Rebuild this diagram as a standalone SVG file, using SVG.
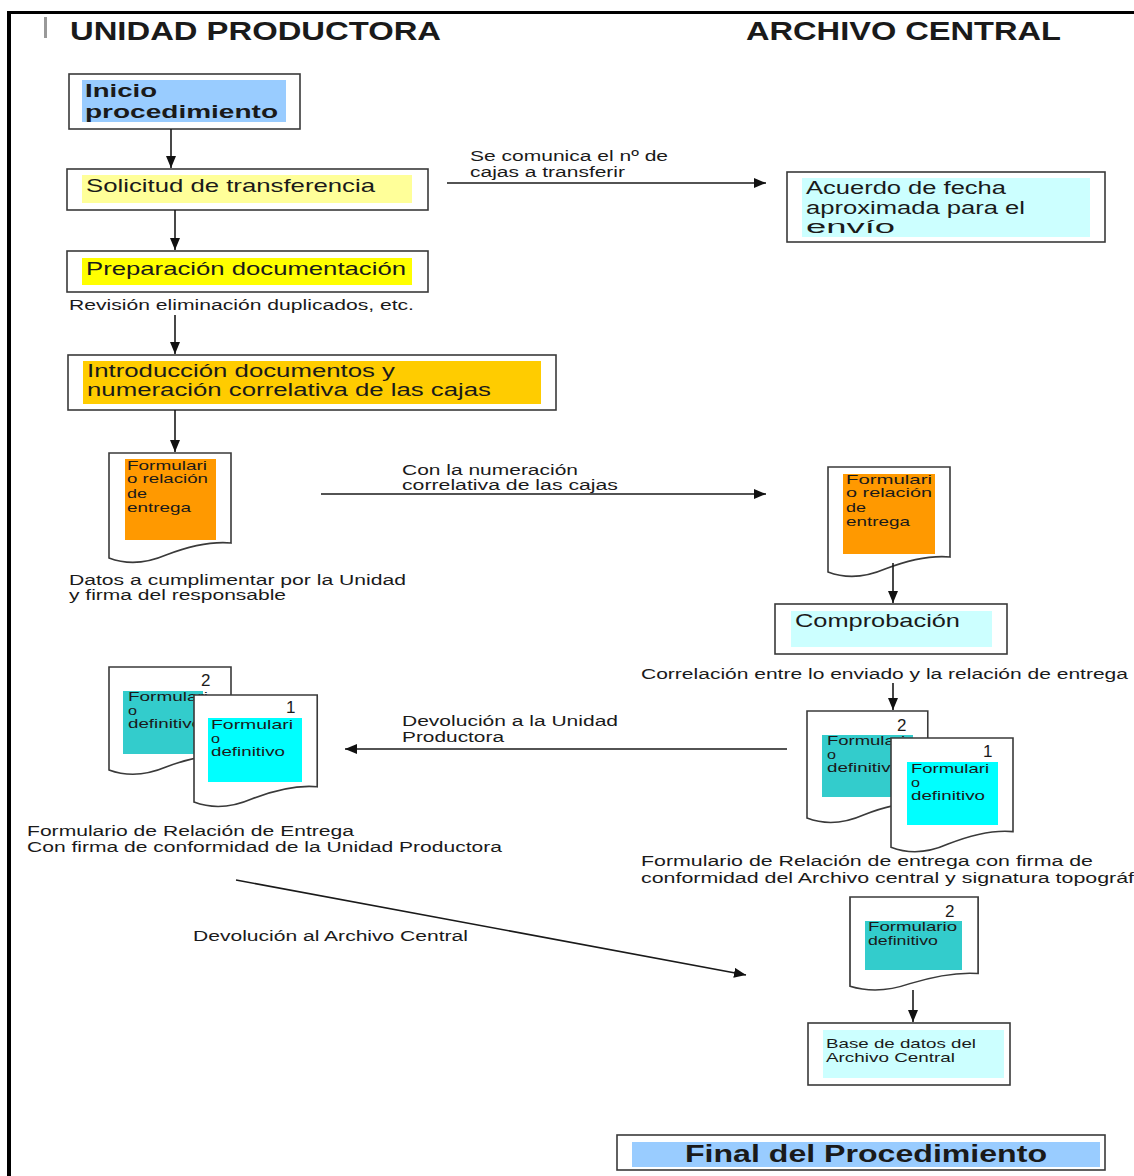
<svg xmlns="http://www.w3.org/2000/svg" xmlns:xlink="http://www.w3.org/1999/xlink" width="1134" height="1176" viewBox="0 0 1134 1176">
<style>
text{font-family:"Liberation Sans",Arial,sans-serif;fill:#1a1a1a}
.h{font-size:25px;font-weight:bold}
.b{font-weight:bold}
.box{fill:#fff;stroke:#3a3a3a;stroke-width:1.6}
.doc{fill:#fff;stroke:#3a3a3a;stroke-width:1.6}
.f13{font-size:13.5px}
.f15{font-size:15.5px}
.f17{font-size:17.5px}
.f18{font-size:18.5px}
.num{font-size:17px}
.con{stroke:#1a1a1a;stroke-width:1.6;fill:none}
</style>
<defs>
<marker id="ah" markerUnits="userSpaceOnUse" markerWidth="13" markerHeight="11" refX="12" refY="5" orient="auto">
<path d="M0,0 L12,5 L0,10 z" fill="#111"/>
</marker>
<path id="docshape" d="M0,0 H122 V90 C100,88 78,94 57,102 C36,111 16,111 0,105 Z"/>
</defs>
<rect width="1134" height="1176" fill="#fff"/>
<!-- frame -->
<rect x="7" y="11" width="4" height="1165" fill="#000"/>
<rect x="7" y="11" width="1127" height="3" fill="#000"/>
<rect x="44" y="17" width="3" height="21" fill="#999"/>
<text class="h" x="70" y="40" textLength="371" lengthAdjust="spacingAndGlyphs">UNIDAD PRODUCTORA</text>
<text class="h" x="746" y="40" textLength="315" lengthAdjust="spacingAndGlyphs">ARCHIVO CENTRAL</text>

<g id="inicio">
<rect class="box" x="69" y="74" width="231" height="55"/>
<rect x="82" y="80" width="204" height="42" fill="#99CCFF"/>
<text class="b" x="85" y="97" font-size="19" textLength="72" lengthAdjust="spacingAndGlyphs">Inicio</text>
<text class="b" x="85" y="118" font-size="19" textLength="193" lengthAdjust="spacingAndGlyphs">procedimiento</text>
</g>

<g id="solicitud">
<rect class="box" x="67" y="169" width="361" height="41"/>
<rect x="82" y="175" width="330" height="28" fill="#FFFF99"/>
<text class="f18" x="86" y="192" textLength="289" lengthAdjust="spacingAndGlyphs">Solicitud de transferencia</text>
</g>

<g id="preparacion">
<rect class="box" x="67" y="251" width="361" height="41"/>
<rect x="82" y="258" width="330" height="27" fill="#FFFF00"/>
<text class="f18" x="86" y="275" textLength="320" lengthAdjust="spacingAndGlyphs">Preparación documentación</text>
</g>
<text class="f15" x="69" y="310" textLength="345" lengthAdjust="spacingAndGlyphs">Revisión eliminación duplicados, etc.</text>

<g id="introduccion">
<rect class="box" x="68" y="355" width="488" height="55"/>
<rect x="83" y="361" width="458" height="43" fill="#FFCC00"/>
<text class="f17" x="87" y="377" textLength="308" lengthAdjust="spacingAndGlyphs">Introducción documentos y</text>
<text class="f17" x="87" y="396" textLength="404" lengthAdjust="spacingAndGlyphs">numeración correlativa de las cajas</text>
</g>

<g id="acuerdo">
<rect class="box" x="787" y="172" width="318" height="70"/>
<rect x="802" y="178" width="288" height="59" fill="#CCFFFF"/>
<text class="f17" x="806" y="194" textLength="200" lengthAdjust="spacingAndGlyphs">Acuerdo de fecha</text>
<text class="f17" x="806" y="214" textLength="219" lengthAdjust="spacingAndGlyphs">aproximada para el</text>
<text class="f17" x="806" y="233" textLength="89" lengthAdjust="spacingAndGlyphs">envío</text>
</g>

<g id="formulario-relacion-up">
<use xlink:href="#docshape" class="doc" transform="translate(109,453)"/>
<rect x="125" y="459" width="91" height="81" fill="#FF9900"/>
<text class="f13" x="127" y="470" textLength="80" lengthAdjust="spacingAndGlyphs">Formulari</text>
<text class="f13" x="127" y="483" textLength="81" lengthAdjust="spacingAndGlyphs">o relación</text>
<text class="f13" x="127" y="498" textLength="20" lengthAdjust="spacingAndGlyphs">de</text>
<text class="f13" x="127" y="512" textLength="64" lengthAdjust="spacingAndGlyphs">entrega</text>
</g>
<text class="f15" x="69" y="585" textLength="337" lengthAdjust="spacingAndGlyphs">Datos a cumplimentar por la Unidad</text>
<text class="f15" x="69" y="600" textLength="217" lengthAdjust="spacingAndGlyphs">y firma del responsable</text>

<g id="formulario-relacion-ac">
<use xlink:href="#docshape" class="doc" transform="translate(828,467)"/>
<rect x="843" y="474" width="92" height="80" fill="#FF9900"/>
<text class="f13" x="846" y="484" textLength="86" lengthAdjust="spacingAndGlyphs">Formulari</text>
<text class="f13" x="846" y="497" textLength="86" lengthAdjust="spacingAndGlyphs">o relación</text>
<text class="f13" x="846" y="512" textLength="20" lengthAdjust="spacingAndGlyphs">de</text>
<text class="f13" x="846" y="526" textLength="64" lengthAdjust="spacingAndGlyphs">entrega</text>
</g>

<g id="comprobacion">
<rect class="box" x="775" y="604" width="232" height="50"/>
<rect x="791" y="611" width="201" height="36" fill="#CCFFFF"/>
<text class="f18" x="795" y="627" textLength="165" lengthAdjust="spacingAndGlyphs">Comprobación</text>
</g>
<text class="f15" x="641" y="679" textLength="487" lengthAdjust="spacingAndGlyphs">Correlación entre lo enviado y la relación de entrega</text>

<g id="formularios-up">
<use xlink:href="#docshape" class="doc" transform="translate(109,667) scale(1,0.98)"/>
<text class="num" x="201" y="686">2</text>
<rect x="123" y="691" width="80" height="63" fill="#33CCCC"/>
<text class="f13" x="128" y="701" textLength="80" lengthAdjust="spacingAndGlyphs">Formulari</text>
<text class="f13" x="128" y="715" textLength="9" lengthAdjust="spacingAndGlyphs">o</text>
<text class="f13" x="128" y="728" textLength="74" lengthAdjust="spacingAndGlyphs">definitivo</text>
<use xlink:href="#docshape" class="doc" transform="translate(194,695) scale(1.01,1.02)"/>
<text class="num" x="286" y="713">1</text>
<rect x="208" y="718" width="94" height="64" fill="#00FFFF"/>
<text class="f13" x="211" y="729" textLength="82" lengthAdjust="spacingAndGlyphs">Formulari</text>
<text class="f13" x="211" y="743" textLength="9" lengthAdjust="spacingAndGlyphs">o</text>
<text class="f13" x="211" y="756" textLength="74" lengthAdjust="spacingAndGlyphs">definitivo</text>
</g>
<text class="f15" x="27" y="836" textLength="327" lengthAdjust="spacingAndGlyphs">Formulario de Relación de Entrega</text>
<text class="f15" x="27" y="852" textLength="475" lengthAdjust="spacingAndGlyphs">Con firma de conformidad de la Unidad Productora</text>

<g id="formularios-ac">
<use xlink:href="#docshape" class="doc" transform="translate(807,711) scale(0.99,1.02)"/>
<text class="num" x="897" y="731">2</text>
<rect x="822" y="735" width="91" height="62" fill="#33CCCC"/>
<text class="f13" x="827" y="745" textLength="78" lengthAdjust="spacingAndGlyphs">Formulari</text>
<text class="f13" x="827" y="759" textLength="9" lengthAdjust="spacingAndGlyphs">o</text>
<text class="f13" x="827" y="772" textLength="74" lengthAdjust="spacingAndGlyphs">definitivo</text>
<use xlink:href="#docshape" class="doc" transform="translate(891,738) scale(1,1.04)"/>
<text class="num" x="983" y="757">1</text>
<rect x="907" y="762" width="91" height="63" fill="#00FFFF"/>
<text class="f13" x="911" y="773" textLength="78" lengthAdjust="spacingAndGlyphs">Formulari</text>
<text class="f13" x="911" y="787" textLength="9" lengthAdjust="spacingAndGlyphs">o</text>
<text class="f13" x="911" y="800" textLength="74" lengthAdjust="spacingAndGlyphs">definitivo</text>
</g>
<text class="f15" x="641" y="866" textLength="452" lengthAdjust="spacingAndGlyphs">Formulario de Relación de entrega  con firma de</text>
<text class="f15" x="641" y="883" textLength="493" lengthAdjust="spacingAndGlyphs">conformidad del Archivo central  y signatura topográf</text>

<g id="formulario-definitivo">
<use xlink:href="#docshape" class="doc" transform="translate(850,897) scale(1.05,0.85)"/>
<text class="num" x="945" y="917">2</text>
<rect x="865" y="921" width="97" height="49" fill="#33CCCC"/>
<text class="f13" x="868" y="931" textLength="89" lengthAdjust="spacingAndGlyphs">Formulario</text>
<text class="f13" x="868" y="945" textLength="70" lengthAdjust="spacingAndGlyphs">definitivo</text>
</g>

<g id="base-datos">
<rect class="box" x="808" y="1023" width="202" height="62"/>
<rect x="823" y="1030" width="181" height="48" fill="#CCFFFF"/>
<text class="f13" x="826" y="1048" textLength="150" lengthAdjust="spacingAndGlyphs">Base de datos del</text>
<text class="f13" x="826" y="1062" textLength="129" lengthAdjust="spacingAndGlyphs">Archivo Central</text>
</g>

<g id="final">
<rect class="box" x="617" y="1135" width="488" height="35"/>
<rect x="632" y="1142" width="468" height="25" fill="#99CCFF"/>
<text class="b" x="685" y="1162" font-size="23" textLength="362" lengthAdjust="spacingAndGlyphs">Final del Procedimiento</text>
</g>

<g id="connectors">
<line class="con" x1="171" y1="129" x2="171" y2="168" marker-end="url(#ah)"/>
<line class="con" x1="175" y1="210" x2="175" y2="250" marker-end="url(#ah)"/>
<line class="con" x1="175" y1="315" x2="175" y2="354" marker-end="url(#ah)"/>
<line class="con" x1="175" y1="410" x2="175" y2="452" marker-end="url(#ah)"/>
<line class="con" x1="447" y1="183" x2="766" y2="183" marker-end="url(#ah)"/>
<line class="con" x1="321" y1="494" x2="766" y2="494" marker-end="url(#ah)"/>
<line class="con" x1="893" y1="563" x2="893" y2="603" marker-end="url(#ah)"/>
<line class="con" x1="893" y1="683" x2="893" y2="710" marker-end="url(#ah)"/>
<line class="con" x1="787" y1="749" x2="345" y2="749" marker-end="url(#ah)"/>
<line class="con" x1="236" y1="880" x2="746" y2="975" marker-end="url(#ah)"/>
<line class="con" x1="913" y1="990" x2="913" y2="1022" marker-end="url(#ah)"/>
<text class="f15" x="470" y="161" textLength="198" lengthAdjust="spacingAndGlyphs">Se comunica el nº de</text>
<text class="f15" x="470" y="177" textLength="155" lengthAdjust="spacingAndGlyphs">cajas a transferir</text>
<text class="f15" x="402" y="475" textLength="176" lengthAdjust="spacingAndGlyphs">Con la numeración</text>
<text class="f15" x="402" y="490" textLength="216" lengthAdjust="spacingAndGlyphs">correlativa de las cajas</text>
<text class="f15" x="402" y="726" textLength="216" lengthAdjust="spacingAndGlyphs">Devolución a la Unidad</text>
<text class="f15" x="402" y="742" textLength="102" lengthAdjust="spacingAndGlyphs">Productora</text>
<text class="f15" x="193" y="941" textLength="275" lengthAdjust="spacingAndGlyphs">Devolución al Archivo Central</text>
</g>
</svg>
